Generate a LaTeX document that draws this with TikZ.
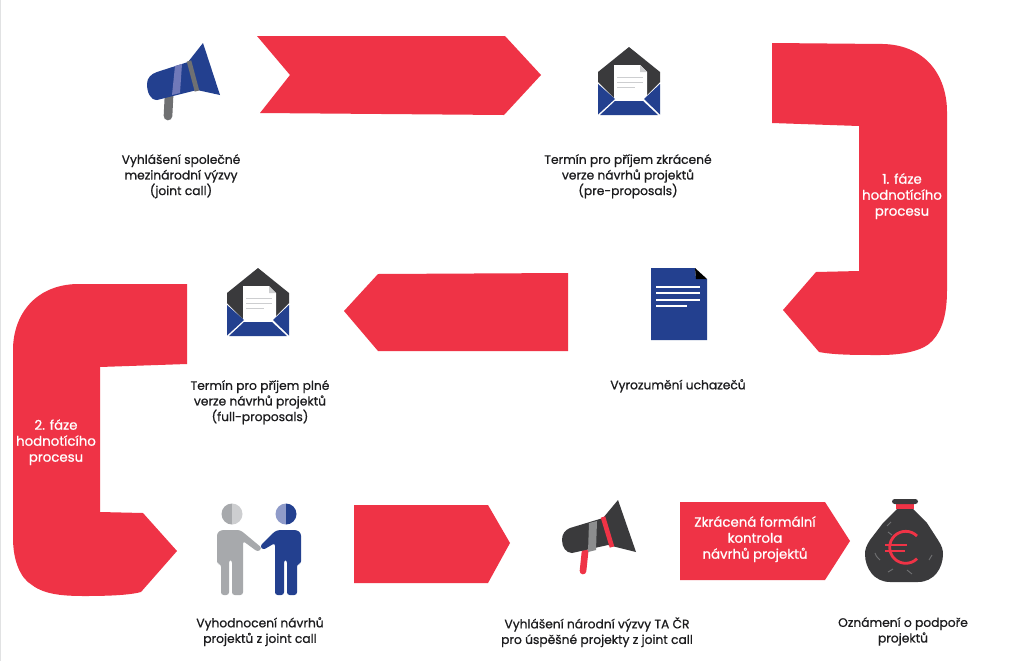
\documentclass[tikz,border=0pt]{standalone}
\usepackage{fontspec}
\setmainfont{Poppins}[FakeBold=0.8]
\definecolor{rd}{HTML}{EF3346}
\definecolor{bl}{HTML}{23408F}
\definecolor{lbl}{HTML}{8F9BC9}
\definecolor{mbl}{HTML}{7079B9}
\definecolor{dk}{HTML}{3A3A3C}
\definecolor{gr}{HTML}{A7A9AC}
\definecolor{lgr}{HTML}{CDCED0}
\definecolor{mgr}{HTML}{6F7072}
\definecolor{txt}{HTML}{1C1C1E}
\tikzset{
  red shape/.style={fill=rd,draw=none},
  cap text/.style={font=\fontsize{9.2}{11.7}\selectfont,text=txt,align=center,inner sep=0pt,anchor=north},
  inv text/.style={font=\fontsize{10}{12}\selectfont,text=white,align=center,inner sep=0pt,anchor=north},
  paper line/.style={draw=lgr,line width=.6pt},
  envelope/.pic={
    \fill[dk] (629,47) -- (660,72) -- (660,82) -- (644,98) -- (614,98) -- (598,82) -- (598,72) -- cycle;
    \fill[white] (614,65) -- (640,65) -- (647,72) -- (647,99) -- (614,99) -- cycle;
    \fill[lgr] (640,65) -- (647,72) -- (640,72) -- cycle;
    \draw[paper line] (617,77) -- (643,77) (617,82) -- (643,82) (617,87) -- (635,87);
    \fill[bl] (598,84) -- (615,99) -- (598,114.5) -- cycle;
    \fill[bl] (660,84) -- (644,99) -- (660,114.5) -- cycle;
    \fill[bl] (615,101) -- (643,101) -- (658,115) -- (600,115) -- cycle;
  }
}
\begin{document}
\begin{tikzpicture}[x=.75pt,y=-.75pt]
\useasboundingbox (0,0) rectangle (1024,661);
\fill[white] (0,0) rectangle (1024,661);
\fill[lgr!60] (0,0) rectangle (1,661);
% arrows
\fill[red shape] (257,36) -- (505,36) -- (541,75) -- (504,115) -- (260,113) -- (290,75) -- cycle;
\fill[red shape] (568,273) -- (378,274) -- (344,311) -- (378,351) -- (568,351) -- cycle;
\fill[red shape] (354,505) -- (488,505) -- (510,543) -- (488,583) -- (354,583) -- cycle;
\fill[red shape] (680,502) -- (825,502) -- (850,541) -- (825,580) -- (680,580) -- cycle;
\fill[red shape] (772,43) -- (883,44) .. controls (925,45) and (947,75) .. (947,112) -- (947,290)
  .. controls (947,315) and (942,330) .. (933,340) .. controls (925,350) and (905,355) .. (880,355)
  .. controls (855,355) and (835,355) .. (819,352) -- (783,310) -- (816,272) -- (859,271) -- (859,126) -- (772,123) -- cycle;
\fill[red shape] (187,284) -- (77,284) .. controls (35,285) and (13,315) .. (13,350) -- (13,538)
  .. controls (13,560) and (20,578) .. (32,585) .. controls (45,595) and (65,596) .. (85,596)
  .. controls (110,596) and (130,595) .. (141,592) -- (177,551) -- (143,513) -- (100,512) -- (100,367) -- (187,364) -- cycle;
% megaphone 1
\draw[mgr,line width=6.5pt,line cap=round] (169,96) -- (168,116);
\fill[bl] (157,72) -- (188,62) -- (203,43) -- (220,95) -- (197,90) -- (157,100) .. controls (150,100) and (147,92) .. (147,84) .. controls (147,78) and (151,74) .. (157,72) -- cycle;
\fill[mbl] (175,66) -- (182,64) -- (180,93) -- (172,95) -- cycle;
\draw[mgr,line width=3.5pt] (189,61) -- (197,91);
% envelopes
\pic at (0,0) {envelope};
\pic[shift={(-371,221)}] at (0,0) {envelope};
% document
\fill[bl] (651,268) -- (695,268) -- (696,279) -- (707,279) -- (707,340) -- (651,340) -- cycle;
\fill[black] (695,268) -- (707,279) -- (696,279) -- cycle;
\draw[white,line width=1.5pt] (656,287) -- (700,287) (656,293) -- (700,293) (656,300) -- (700,300) (656,306) -- (687,306);
% people
\fill[gr] (232,503.5) arc (270:90:10.5) -- cycle;
\fill[lgr] (232,503.5) arc (270:450:10.5) -- cycle;
\fill[gr,rounded corners=2pt] (221,530) -- (240,530) -- (244,533) -- (262,548) -- (258,552) -- (243,541) -- (243,595) -- (232,595) -- (232,560) -- (229,560) -- (229,595) -- (221,595) -- (221,564) -- (217,564) -- (217,533) -- cycle;
\fill[lbl] (286,503.5) arc (270:90:10.5) -- cycle;
\fill[bl] (286,503.5) arc (270:450:10.5) -- cycle;
\fill[bl,rounded corners=2pt] (278,530) -- (297,530) -- (301,533) -- (301,564) -- (297,564) -- (297,595) -- (287,595) -- (287,560) -- (284,560) -- (284,595) -- (275,595) -- (275,543) -- (263,550) -- (260,546) -- (274,532) -- cycle;
% megaphone 2
\draw[rd,line width=5pt,line cap=round] (585,552) -- (583,571);
\fill[dk] (570,528) -- (603,518) -- (618,500) -- (636,552) -- (608,545) -- (572,553) .. controls (566,553) and (562,547) .. (562,540) .. controls (562,534) and (565,530) .. (570,528) -- cycle;
\fill[mgr!80] (589,523) -- (597,521) -- (596,550) -- (588,552) -- cycle;
\draw[rd,line width=3.5pt] (603,517) -- (612,547);
% money bag
\fill[dk] (897,509) -- (913,509) -- (927,523) -- (938,540) .. controls (942,546) and (943,550) .. (943,554)
  .. controls (943,568) and (934,582) .. (918,582) -- (890,582) .. controls (874,582) and (865,568) .. (865,554)
  .. controls (865,550) and (866,546) .. (870,540) -- (883,523) -- cycle;
\fill[rd] (896,503) rectangle (914,509);
\fill[dk,rounded corners=2pt] (892,499) rectangle (918,504);
\draw[rd,line width=2.1pt] (917,536) arc (-45:-315:16);
\draw[rd,line width=1.6pt] (885,545) -- (907,545) (885,551) -- (905,551);
\draw[mgr,line width=.7pt] (891,522) -- (887,526) (888,532) -- (892,535) (875,553) .. controls (876,556) .. (880,560) (932,555) -- (929,560) (893,569) -- (888,572) (907,570) -- (912,574);
% texts
\node[cap text] (t1) at (181,154) {Vyhlášení společné\\mezinárodní výzvy\\(joint call)};
\node[cap text] (t2) at (628,154) {Termín pro příjem zkrácené\\verze návrhů projektů\\(pre-proposals)};
\node[cap text] (t3) at (678,379) {Vyrozumění uchazečů};
\node[cap text] (t4) at (260,380) {Termín pro příjem plné\\verze návrhů projektů\\(full-proposals)};
\node[cap text] (t5) at (260,617) {Vyhodnocení návrhů\\projektů z joint call};
\node[cap text] (t6) at (597,617) {Vyhlášení národní výzvy TA ČR\\pro úspěšné projekty z joint call};
\node[cap text] (t7) at (903,617) {Oznámení o podpoře\\projektů};
\node[inv text] (f1) at (902,173) {1. fáze\\hodnotícího\\procesu};
\node[inv text] (f2) at (56,419) {2. fáze\\hodnotícího\\procesu};
\node[inv text] (z1) at (755,516) {Zkrácená formální\\kontrola\\návrhů projektů};
\end{tikzpicture}
\end{document}
